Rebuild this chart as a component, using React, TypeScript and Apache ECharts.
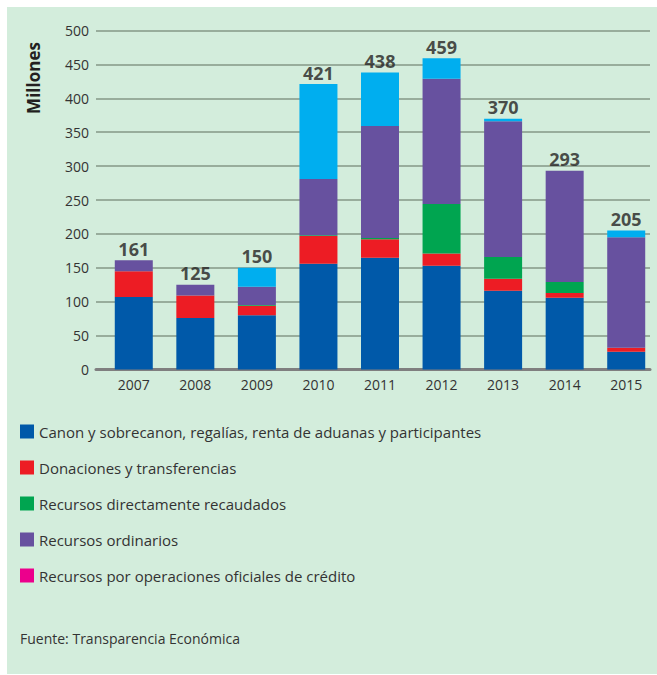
import React, { useEffect, useRef } from "react";
import * as echarts from "echarts";

const years = ["2007", "2008", "2009", "2010", "2011", "2012", "2013", "2014", "2015"];
const canon = [107, 76, 80, 156, 165, 153, 116, 106, 26];
const donaciones = [38, 33, 14, 41, 27, 18, 18, 7, 6];
const directos = [0, 0, 1, 1, 2, 73, 32, 16, 0];
const ordinarios = [16, 16, 27, 83, 165, 185, 200, 164, 163];
const credito = [0, 0, 28, 140, 79, 30, 4, 0, 10];
const totals = [161, 125, 150, 421, 438, 459, 370, 293, 205];

const seriesNames = [
  "Canon y sobrecanon, regalías, renta de aduanas y participantes",
  "Donaciones y transferencias",
  "Recursos directamente recaudados",
  "Recursos ordinarios",
  "Recursos por operaciones oficiales de crédito",
];
const seriesColors = ["#0059a9", "#ed1c24", "#00a550", "#67519f", "#00aeef"];
const legendColors = ["#0059a9", "#ed1c24", "#00a550", "#67519f", "#ec008c"];

const FONT = "'Open Sans', sans-serif";

export default function App() {
  const ref = useRef<HTMLDivElement>(null);
  useEffect(() => {
    if (!ref.current) return;
    const chart = echarts.init(ref.current, null, { renderer: "svg" });
    const values = [canon, donaciones, directos, ordinarios, credito];
    const gridTop = 30.5;
    const gridHeight = 339;
    chart.setOption({
      animation: false,
      textStyle: { fontFamily: FONT },
      grid: [
        { left: 96, top: gridTop, width: 554, height: gridHeight },
        { left: 103, top: gridTop, width: 558, height: gridHeight },
      ],
      xAxis: [
        {
          gridIndex: 0,
          type: "category",
          data: years,
          axisLine: { show: true, lineStyle: { color: "#7f7f7f", width: 3 } },
          axisTick: { show: false },
          axisLabel: { show: false },
          splitLine: { show: false },
        },
        {
          gridIndex: 1,
          type: "category",
          data: years,
          axisLine: { show: false },
          axisTick: { show: false },
          axisLabel: { fontSize: 14, color: "#333333", margin: 8, fontFamily: FONT },
          splitLine: { show: false },
        },
      ],
      yAxis: [
        {
          gridIndex: 0,
          type: "value",
          min: 0,
          max: 500,
          interval: 50,
          axisLine: { show: false },
          axisTick: { show: false },
          axisLabel: { fontSize: 14, color: "#333333", margin: 7, fontFamily: FONT },
          splitLine: { lineStyle: { color: "#98ad9c", width: 2 } },
        },
        {
          gridIndex: 1,
          type: "value",
          min: 0,
          max: 500,
          interval: 50,
          show: false,
          splitLine: { show: false },
        },
      ],
      legend: {
        orient: "vertical",
        left: 15,
        top: 419,
        itemWidth: 14,
        itemHeight: 14,
        itemGap: 21,
        icon: "rect",
        textStyle: { fontSize: 15, color: "#333333", fontFamily: FONT },
        data: seriesNames.map((n, i) => ({ name: n, itemStyle: { color: legendColors[i] } })),
      },
      series: [
        ...seriesNames.map((name, i) => ({
          name,
          type: "bar",
          stack: "total",
          xAxisIndex: 1,
          yAxisIndex: 1,
          barWidth: 38,
          itemStyle: { color: seriesColors[i] },
          data: values[i],
        })),
        {
          name: "Total",
          type: "scatter",
          xAxisIndex: 1,
          yAxisIndex: 1,
          symbolSize: 1,
          itemStyle: { color: "rgba(0,0,0,0)" },
          data: totals,
          label: {
            show: true,
            position: "top",
            distance: 2,
            fontSize: 18,
            fontWeight: "bold",
            color: "#231f20",
            fontFamily: FONT,
          },
        },
      ],
      graphic: [
        {
          type: "rect",
          z: -100,
          silent: true,
          shape: { x: 7, y: 7, width: 650, height: 667 },
          style: { fill: "#d3eddc" },
        },
        {
          type: "text",
          x: 33,
          y: 78,
          rotation: Math.PI / 2,
          style: {
            text: "Millones",
            fontSize: 17,
            fontWeight: "bold",
            fill: "#231f20",
            fontFamily: FONT,
            align: "center",
            verticalAlign: "middle",
          },
        },
        {
          type: "text",
          x: 20,
          y: 638,
          style: {
            text: "Fuente: Transparencia Económica",
            fontSize: 14,
            fill: "#333333",
            fontFamily: FONT,
            verticalAlign: "middle",
          },
        },
      ],
    });
    return () => chart.dispose();
  }, []);
  return (
    <div
      ref={ref}
      style={{ position: "absolute", left: 0, top: 0, width: 657, height: 675, background: "#ffffff" }}
    />
  );
}
